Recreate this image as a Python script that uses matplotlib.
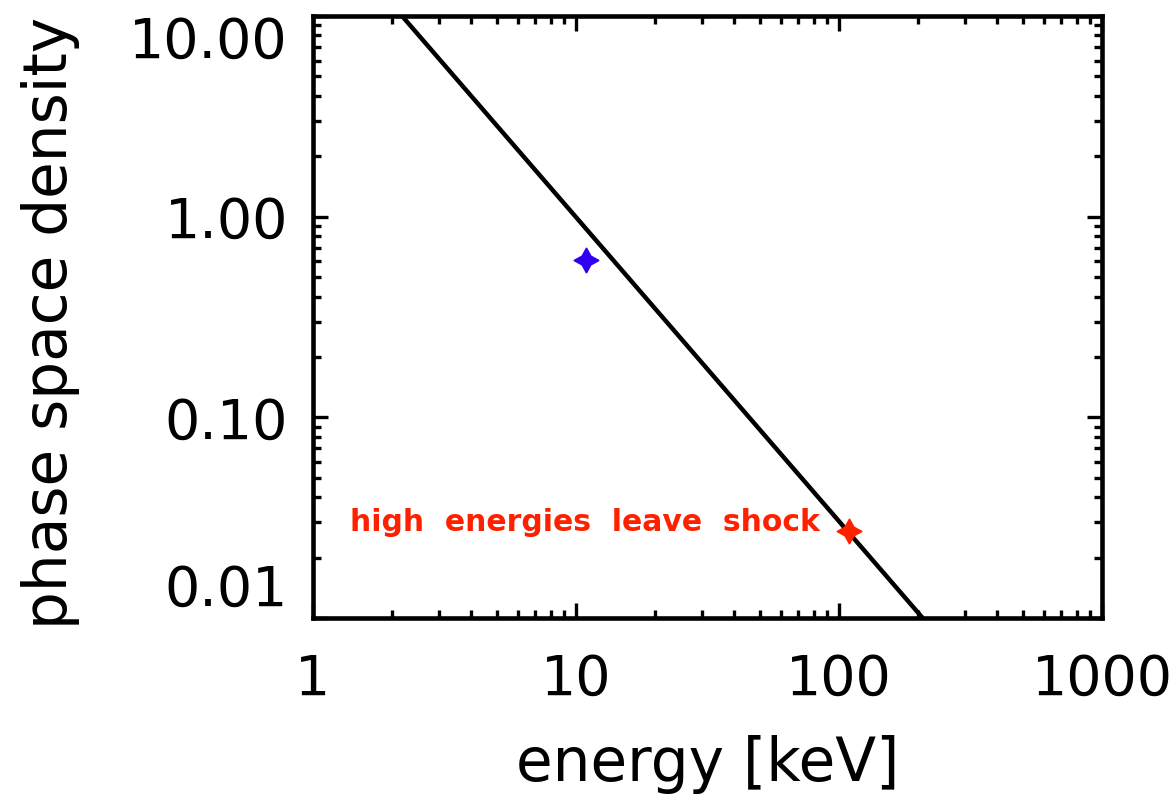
import matplotlib
matplotlib.use("Agg")
import matplotlib.pyplot as plt
from matplotlib.ticker import LogLocator, FixedLocator, NullFormatter

# power-law spectrum (straight line in log-log), end points at the frame edges
energy_line = [2.18, 208.0]
density_line = [10.0, 0.01]

# marked points on the spectrum
blue_pt = (10.9, 0.61)
red_pt = (109.0, 0.027)
red_label = "high  energies  leave  shock"

xticks = [1, 10, 100, 1000]
xticklabels = ["1", "10", "100", "1000"]
yticks = [0.01, 0.1, 1.0, 10.0]
yticklabels = ["0.01", "0.10", "1.00", "10.00"]

C_BLUE, C_RED = "#3000F0", "#FF2000"
FS = 40
FS_LAB = 43

plt.rcParams["font.family"] = ["DejaVu Sans"]

fig = plt.figure(figsize=(11.76, 8.02), dpi=100)
ax = fig.add_axes([0.2662, 0.2294, 0.6709, 0.7506])

ax.plot(energy_line, density_line, color="black", lw=3.2, solid_capstyle="butt")
ax.plot(*blue_pt, marker=(4, 1, 0), ms=18, color=C_BLUE, mec=C_BLUE, ls="none")
ax.plot(*red_pt, marker=(4, 1, 0), ms=18, color=C_RED, mec=C_RED, ls="none")
ax.annotate(red_label, xy=red_pt, xytext=(-21, 0), textcoords="offset points",
            ha="right", va="baseline", color=C_RED, fontsize=21.5, fontweight="bold")

ax.set_xscale("log")
ax.set_yscale("log")
ax.set_xlim(1, 1000)
ax.set_ylim(0.01, 10)

ax.xaxis.set_major_locator(FixedLocator(xticks))
ax.set_xticklabels(xticklabels)
ax.yaxis.set_major_locator(FixedLocator(yticks))
ax.set_yticklabels(yticklabels)
for axis in (ax.xaxis, ax.yaxis):
    axis.set_minor_locator(LogLocator(base=10, subs=range(2, 10)))
    axis.set_minor_formatter(NullFormatter())

for s in ax.spines.values():
    s.set_linewidth(3.3)
ax.tick_params(which="both", direction="in", top=True, right=True, width=2.4)
ax.tick_params(which="major", length=11)
ax.tick_params(which="minor", length=5.5)
ax.tick_params(axis="y", which="major", labelsize=FS, pad=18)
ax.tick_params(axis="x", which="major", labelsize=FS, pad=25)

# keep the end labels inside the frame height
ylabs = ax.get_yticklabels()
ylabs[0].set_va("bottom")
ylabs[-1].set_va("top")

ax.set_xlabel("energy [keV]", fontsize=FS_LAB, labelpad=20)
ax.set_ylabel("phase space density", fontsize=FS_LAB, va="center")
ax.yaxis.set_label_coords(-0.333, 0.49)

fig.savefig("out.png", dpi=100)
